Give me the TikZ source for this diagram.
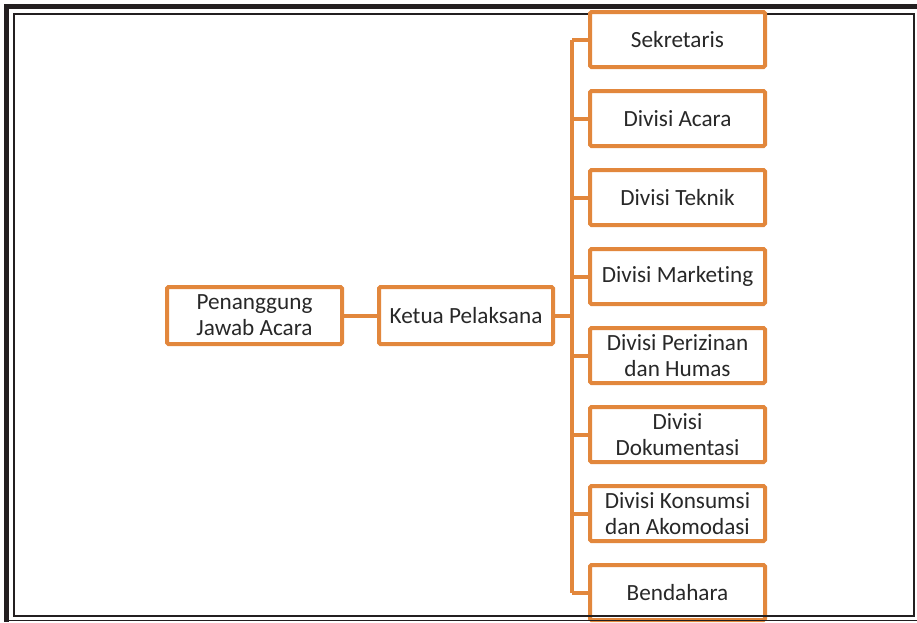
\documentclass[tikz,border=0pt]{standalone}
\usepackage{fontspec}
\setmainfont[Ligatures=CommonOff]{Carlito}
\definecolor{orangeb}{RGB}{226,135,60}
\definecolor{frameblk}{RGB}{35,31,32}
\definecolor{txt}{RGB}{40,40,40}
\tikzset{
  box/.style={draw=orangeb, line width=4pt, fill=white, rounded corners=1.5pt, inner sep=0pt,
    align=center, text=txt, font=\fontsize{23.2}{26}\selectfont},
  leftbox/.style={box, minimum width=175pt, minimum height=57pt},
  rbox/.style={box, minimum width=175pt, minimum height=55pt},
  conn/.style={draw=orangeb, line width=4pt},
}
\begin{document}
\begin{tikzpicture}[x=1pt,y=-1pt]
\useasboundingbox (0,0) rectangle (917,622);
% frame
\fill[frameblk] (4,4) rectangle (917,9);
\fill[frameblk] (4,4) rectangle (9,622);
\draw[frameblk, line width=2pt] (14,14) rectangle (913.5,616);
% trunk
\coordinate (tt) at (572,39.5);
\coordinate (tb) at (572,592.5);
\draw[conn] (tt) -- (tb);
% boxes
\node[leftbox] (pj) at (254.5,315.5) {Penanggung\\Jawab Acara};
\node[leftbox, minimum width=174pt] (ketua) at (466,315.5) {Ketua Pelaksana};
\node[rbox] (b1) at (677.5,39.5) {Sekretaris};
\node[rbox] (b2) at (677.5,118.5) {Divisi Acara};
\node[rbox] (b3) at (677.5,197.5) {Divisi Teknik};
\node[rbox] (b4) at (677.5,276.5) {Divisi Marketing};
\node[rbox] (b5) at (677.5,355.5) {Divisi Perizinan\\dan Humas};
\node[rbox] (b6) at (677.5,434.5) {Divisi\\Dokumentasi};
\node[rbox] (b7) at (677.5,513.5) {Divisi Konsumsi\\dan Akomodasi};
\node[rbox] (b8) at (677.5,592.5) {Bendahara};
% connectors
\draw[conn] (pj.east) -- (ketua.west);
\draw[conn] (ketua.east) -- (ketua.east -| tt);
\foreach \b in {b1,b2,b3,b4,b5,b6,b7,b8}{
  \draw[conn] (\b.west -| tt) -- (\b.west);
}
% bottom frame lines over boxes
\draw[frameblk, line width=2pt] (14,616) -- (913.5,616);
\draw[frameblk, line width=1pt] (9,620.5) -- (917,620.5);
\end{tikzpicture}
\end{document}
